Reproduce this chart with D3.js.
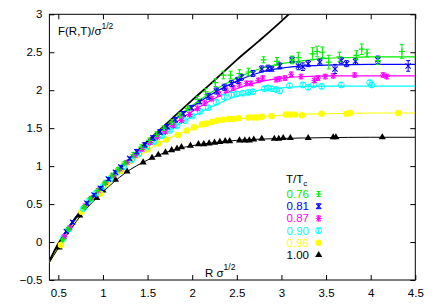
<!DOCTYPE html>
<html lang="en">
<head>
    <meta charset="UTF-8">
    <title>F(R,T)</title>
    <script src="https://d3js.org/d3.v7.min.js"></script>
</head>
<body>
    <div id="container"></div>
</body>

<style>
body {
    margin: 0;
    background: #fff;
}
svg text {
    font-family: "Liberation Sans", Arial, Helvetica, sans-serif;
    font-size: 11.5px;
}
</style>

<script>
    // T/Tc labels and colours of the six runs
    const temps = ['0.76', '0.81', '0.87', '0.90', '0.96', '1.00']
    const colors = ['#00ee00', '#0000ff', '#ff00ff', '#00ffff', '#ffff00', '#000000']
    const symbols = ['plus', 'cross', 'star', 'ocircle', 'dot', 'triangle']

    const xTicks = [0.5, 1, 1.5, 2, 2.5, 3, 3.5, 4, 4.5]
    const yTicks = [-0.5, 0, 0.5, 1, 1.5, 2, 2.5, 3]

    // data points [R, F, error]
    const data076 = [
        [0.55,0.03,0.02],[0.61,0.17,0.02],[0.79,0.46,0.02],[0.86,0.57,0.02],[0.94,0.68,0.02],
        [1.02,0.78,0.02],[1.10,0.88,0.02],[1.17,0.96,0.02],[1.24,1.04,0.02],[1.34,1.15,0.03],
        [1.43,1.25,0.03],[1.52,1.34,0.03],[1.60,1.42,0.03],[1.68,1.50,0.03],[1.77,1.58,0.03],
        [1.86,1.67,0.03],[1.95,1.76,0.03],[2.06,1.88,0.04],[2.15,1.98,0.04],[2.26,2.10,0.05],
        [2.35,2.20,0.05],[2.43,2.20,0.05],[2.53,2.22,0.05],[2.63,2.24,0.05],[2.80,2.40,0.04],
        [2.95,2.38,0.05],[3.12,2.40,0.05],[3.19,2.43,0.07],[3.35,2.48,0.08],[3.40,2.51,0.07],
        [3.46,2.50,0.07],[3.53,2.37,0.09],[3.65,2.44,0.06],[3.84,2.46,0.06],[3.90,2.54,0.07],
        [3.96,2.49,0.05],[4.08,2.39,0.05],[4.35,2.51,0.09]
    ]
    const data081 = [
        [0.59,0.14,0.02],[0.66,0.26,0.02],[0.82,0.51,0.02],[0.90,0.62,0.02],[0.97,0.71,0.02],
        [1.06,0.83,0.02],[1.14,0.92,0.02],[1.20,0.99,0.02],[1.30,1.10,0.02],[1.38,1.19,0.03],
        [1.47,1.28,0.03],[1.56,1.37,0.03],[1.64,1.45,0.03],[1.72,1.52,0.03],[1.81,1.61,0.03],
        [1.90,1.69,0.03],[1.99,1.77,0.03],[2.08,1.85,0.03],[2.18,1.92,0.04],[2.27,1.99,0.04],
        [2.36,2.04,0.04],[2.44,2.09,0.04],[2.51,2.13,0.04],[2.55,2.17,0.04],[2.68,2.22,0.04],
        [2.78,2.28,0.04],[2.85,2.29,0.04],[2.89,2.28,0.03],[2.98,2.32,0.04],[3.12,2.40,0.04],
        [3.19,2.32,0.05],[3.24,2.31,0.05],[3.30,2.35,0.04],[3.43,2.37,0.04],[3.60,2.28,0.06],
        [3.67,2.39,0.04],[3.73,2.35,0.04],[3.83,2.38,0.04],[4.08,2.40,0.05],[4.42,2.32,0.07]
    ]
    const data087 = [
        [0.57,0.07,0.02],[0.63,0.19,0.02],[0.80,0.48,0.02],[0.87,0.58,0.02],[0.95,0.68,0.02],
        [1.03,0.78,0.02],[1.12,0.88,0.02],[1.19,0.96,0.02],[1.27,1.05,0.02],[1.36,1.14,0.02],
        [1.44,1.22,0.02],[1.53,1.31,0.02],[1.61,1.38,0.02],[1.70,1.45,0.02],[1.79,1.53,0.02],
        [1.88,1.60,0.02],[1.97,1.68,0.03],[2.06,1.76,0.03],[2.14,1.83,0.03],[2.22,1.89,0.03],
        [2.30,1.95,0.03],[2.38,2.00,0.03],[2.46,2.03,0.03],[2.53,2.07,0.03],[2.61,2.09,0.03],
        [2.66,2.09,0.03],[2.74,2.13,0.03],[2.79,2.16,0.03],[2.94,2.14,0.03],[2.98,2.15,0.03],
        [3.04,2.16,0.03],[3.11,2.21,0.03],[3.22,2.18,0.03],[3.37,2.13,0.03],[3.41,2.16,0.03],
        [3.49,2.18,0.03],[3.58,2.19,0.03],[3.82,2.20,0.03],[4.14,2.20,0.03],[4.18,2.18,0.03]
    ]
    const data090 = [
        [0.56,0.06,0.02],[0.62,0.17,0.02],[0.78,0.44,0.02],[0.85,0.55,0.02],[0.92,0.64,0.02],
        [1.00,0.73,0.02],[1.08,0.83,0.02],[1.15,0.91,0.02],[1.23,0.99,0.02],[1.32,1.08,0.02],
        [1.40,1.16,0.02],[1.49,1.25,0.02],[1.57,1.32,0.02],[1.66,1.40,0.02],[1.75,1.47,0.02],
        [1.83,1.53,0.02],[1.92,1.60,0.02],[2.00,1.66,0.02],[2.09,1.72,0.03],[2.18,1.77,0.03],
        [2.27,1.84,0.03],[2.36,1.91,0.03],[2.44,1.94,0.03],[2.50,1.95,0.03],[2.57,1.96,0.03],
        [2.63,1.97,0.03],[2.68,1.98,0.03],[2.81,2.02,0.03],[2.85,2.03,0.03],[2.89,2.02,0.03],
        [2.94,2.01,0.03],[2.98,1.99,0.03],[3.09,2.06,0.03],[3.24,2.07,0.03],[3.30,2.04,0.03],
        [3.36,2.07,0.03],[3.45,2.05,0.03],[3.67,2.07,0.03],[3.99,2.10,0.03],[4.01,2.07,0.03]
    ]
    const data096 = [
        [0.53,-0.04],[0.76,0.40],[0.97,0.64],[1.04,0.77],[1.20,0.94],[1.31,1.07],[1.50,1.22],
        [1.62,1.30],[1.71,1.35],[1.84,1.41],[1.94,1.47],[2.02,1.51],[2.11,1.55],[2.16,1.56],
        [2.22,1.58],[2.28,1.60],[2.34,1.61],[2.41,1.62],[2.46,1.62],[2.52,1.63],[2.63,1.64],
        [2.68,1.64],[2.73,1.64],[2.78,1.65],[2.89,1.66],[3.05,1.68],[3.10,1.68],[3.15,1.68],
        [3.23,1.67],[3.45,1.69],[3.73,1.69],[3.77,1.70],[4.31,1.70]
    ]
    const data100 = [
        [0.51,-0.07],[0.74,0.35],[0.93,0.58],[1.00,0.68],[1.14,0.82],[1.27,0.93],[1.45,1.05],
        [1.55,1.11],[1.62,1.15],[1.70,1.18],[1.77,1.21],[1.83,1.23],[1.88,1.25],[1.98,1.27],
        [2.07,1.29],[2.13,1.29],[2.19,1.30],[2.25,1.31],[2.31,1.32],[2.37,1.33],[2.42,1.33],
        [2.53,1.34],[2.59,1.34],[2.64,1.34],[2.69,1.35],[2.78,1.36],[2.92,1.36],[2.97,1.36],
        [3.02,1.37],[3.10,1.37],[3.30,1.37],[3.58,1.38],[3.61,1.38],[4.13,1.38]
    ]

    // fitted curves [R, F]
    const fit076 = [[0.4,-0.25],[0.6,0.17],[0.8,0.49],[1.0,0.75],[1.25,1.05],[1.5,1.32],[1.75,1.57],[2.0,1.80],
        [2.25,2.00],[2.5,2.16],[2.75,2.28],[3.0,2.35],[3.25,2.39],[3.5,2.42],[3.75,2.43],[4.0,2.44],[4.5,2.44]]
    const fit081 = [[0.4,-0.25],[0.6,0.17],[0.8,0.49],[1.0,0.75],[1.25,1.05],[1.5,1.32],[1.75,1.56],[2.0,1.78],
        [2.25,1.97],[2.5,2.12],[2.75,2.23],[3.0,2.29],[3.25,2.32],[3.5,2.33],[4.0,2.34],[4.5,2.34]]
    const fit087 = [[0.4,-0.25],[0.6,0.16],[0.8,0.48],[1.0,0.74],[1.25,1.03],[1.5,1.29],[1.75,1.52],[2.0,1.72],
        [2.25,1.89],[2.5,2.02],[2.75,2.11],[3.0,2.16],[3.25,2.18],[3.5,2.19],[4.5,2.19]]
    const fit090 = [[0.4,-0.25],[0.6,0.16],[0.8,0.47],[1.0,0.73],[1.25,1.01],[1.5,1.26],[1.75,1.47],[2.0,1.65],
        [2.25,1.80],[2.5,1.92],[2.75,2.00],[3.0,2.03],[3.25,2.05],[3.5,2.055],[4.5,2.055]]
    const fit096 = [[0.4,-0.27],[0.6,0.12],[0.8,0.43],[1.0,0.68],[1.25,0.98],[1.5,1.21],[1.75,1.37],[2.0,1.49],
        [2.25,1.57],[2.5,1.62],[2.75,1.65],[3.0,1.67],[3.5,1.69],[4.0,1.70],[4.5,1.70]]
    const fit100 = [[0.4,-0.27],[0.6,0.10],[0.8,0.42],[1.0,0.66],[1.25,0.91],[1.5,1.08],[1.75,1.20],[2.0,1.27],
        [2.25,1.31],[2.5,1.34],[2.75,1.355],[3.0,1.365],[3.5,1.375],[4.0,1.38],[4.5,1.38]]
    // zero temperature string line
    const fitT0 = [[0.4,-0.25],[0.5,-0.02],[0.6,0.16],[0.75,0.40],[1.0,0.74],[1.25,1.04],[1.5,1.33],[1.75,1.60],
        [2.0,1.87],[2.25,2.13],[2.5,2.40],[2.75,2.65],[3.0,2.91],[3.1,3.02]]

    const series = [data076, data081, data087, data090, data096, data100]
    const fits = [fit076, fit081, fit087, fit090, fit096, fit100]

    const width = 436
    const height = 305
    const plotLeft = 49.4, plotRight = 415.3, plotTop = 14.3, plotBottom = 280

    const svg = d3.select('#container')
        .append('svg')
        .attr('width', width)
        .attr('height', height)

    const x = d3.scaleLinear().domain([0.4, 4.5]).range([plotLeft, plotRight])
    const y = d3.scaleLinear().domain([-0.5, 3]).range([plotBottom, plotTop])

    svg.append('clipPath').attr('id', 'clip')
        .append('rect')
        .attr('x', plotLeft).attr('y', plotTop)
        .attr('width', plotRight - plotLeft).attr('height', plotBottom - plotTop)

    // axes, ticks pointing inward
    const fmt = d3.format('')
    svg.append('g')
        .attr('transform', 'translate(0,' + plotBottom + ')')
        .call(d3.axisBottom(x).tickValues(xTicks).tickSize(-5).tickPadding(9).tickFormat(fmt))
    svg.append('g')
        .attr('transform', 'translate(0,' + plotTop + ')')
        .call(d3.axisTop(x).tickValues(xTicks).tickSize(-5).tickFormat(''))
    svg.append('g')
        .attr('transform', 'translate(' + plotLeft + ',0)')
        .call(d3.axisLeft(y).tickValues(yTicks).tickSize(-5).tickPadding(7).tickFormat(fmt))
    svg.append('g')
        .attr('transform', 'translate(' + plotRight + ',0)')
        .call(d3.axisRight(y).tickValues(yTicks).tickSize(-5).tickFormat(''))

    svg.selectAll('.domain').remove()
    svg.selectAll('.tick text').attr('font-size', '11.5px').attr('fill', '#000')
    svg.selectAll('.tick line').attr('stroke', '#000')

    svg.append('rect')
        .attr('x', plotLeft).attr('y', plotTop)
        .attr('width', plotRight - plotLeft).attr('height', plotBottom - plotTop)
        .attr('fill', 'none').attr('stroke', '#000').attr('stroke-width', 1)

    const plot = svg.append('g').attr('clip-path', 'url(#clip)')

    const line = d3.line()
        .x(d => x(d[0]))
        .y(d => y(d[1]))
        .curve(d3.curveMonotoneX)

    // fit lines
    fits.forEach(function(f, i) {
        plot.append('path')
            .attr('d', line(f))
            .attr('fill', 'none')
            .attr('stroke', colors[i])
            .attr('stroke-width', i === 5 ? 1 : 1.2)
    })

    plot.append('path')
        .attr('d', line(fitT0))
        .attr('fill', 'none')
        .attr('stroke', '#000')
        .attr('stroke-width', 1.8)

    function drawMarker(g, type, color) {
        if (type === 'plus') {
            g.append('path').attr('d', 'M-3,0H3M0,-3V3')
                .attr('stroke', color).attr('stroke-width', 1.2).attr('fill', 'none')
        } else if (type === 'cross') {
            g.append('path').attr('d', 'M-2.6,-2.6L2.6,2.6M-2.6,2.6L2.6,-2.6')
                .attr('stroke', color).attr('stroke-width', 1.1).attr('fill', 'none')
        } else if (type === 'star') {
            g.append('path').attr('d', 'M-3,0H3M0,-3V3M-2.3,-2.3L2.3,2.3M-2.3,2.3L2.3,-2.3')
                .attr('stroke', color).attr('stroke-width', 1).attr('fill', 'none')
        } else if (type === 'ocircle') {
            g.append('circle').attr('r', 3)
                .attr('stroke', color).attr('stroke-width', 1).attr('fill', 'none')
        } else if (type === 'dot') {
            g.append('circle').attr('r', 3.3).attr('fill', color)
        } else {
            g.append('path').attr('d', d3.symbol(d3.symbolTriangle, 22)())
                .attr('fill', color)
        }
    }

    function drawErrorBar(g, x0, y1, y2, color) {
        g.append('path')
            .attr('d', 'M' + x0 + ',' + y1 + 'V' + y2 +
                'M' + (x0 - 2) + ',' + y1 + 'H' + (x0 + 2) +
                'M' + (x0 - 2) + ',' + y2 + 'H' + (x0 + 2))
            .attr('stroke', color).attr('stroke-width', 1).attr('fill', 'none')
    }

    // points, drawn so that the lowest temperatures end up on top
    for (let i = series.length - 1; i >= 0; --i) {
        const g = plot.append('g')
        series[i].forEach(function(d) {
            if (d.length > 2) {
                drawErrorBar(g, x(d[0]), y(d[1] - d[2]), y(d[1] + d[2]), colors[i])
            }
            const m = g.append('g')
                .attr('transform', 'translate(' + x(d[0]) + ',' + y(d[1]) + ')')
            drawMarker(m, symbols[i], colors[i])
        })
    }

    // axis titles
    const ylab = svg.append('text').attr('x', 58).attr('y', 34.5).attr('font-size', '12px')
    ylab.append('tspan').text('F(R,T)/σ')
    ylab.append('tspan').attr('dy', -6).attr('font-size', '8.5px').text('1/2')

    const xlab = svg.append('text').attr('x', 205).attr('y', 277).attr('font-size', '12px')
    xlab.append('tspan').text('R σ')
    xlab.append('tspan').attr('dy', -7).attr('font-size', '8.5px').text('1/2')

    // legend
    const legTitle = svg.append('text').attr('x', 286).attr('y', 183).attr('font-size', '11.5px')
    legTitle.append('tspan').text('T/T')
    legTitle.append('tspan').attr('dy', 2.5).attr('font-size', '8px').text('c')

    temps.forEach(function(t, i) {
        const ly = 194 + i * 12.2
        svg.append('text')
            .attr('x', 309).attr('y', ly + 4)
            .attr('text-anchor', 'end')
            .attr('fill', colors[i])
            .text(t)
        const g = svg.append('g')
        if (i < 4) {
            drawErrorBar(g, 318.7, ly - 2.5, ly + 2.5, colors[i])
        }
        const m = g.append('g').attr('transform', 'translate(318.7,' + ly + ')')
        drawMarker(m, symbols[i], colors[i])
    })
</script>
</html>
